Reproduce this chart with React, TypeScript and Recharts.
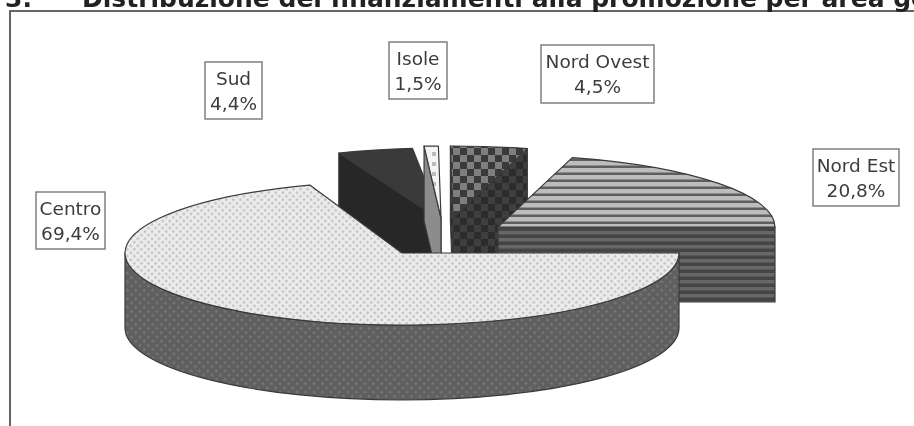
import React from "react";
import { PieChart, Pie } from "recharts";

const areas = ["Nord Est", "Nord Ovest", "Isole", "Sud", "Centro"];
const shares = [20.8, 4.5, 1.5, 4.4, 69.4];
const shareLabels = ["20,8%", "4,5%", "1,5%", "4,4%", "69,4%"];
const data = areas.map((name, i) => ({ name, value: shares[i] }));

// Styling and layout, separate from the data
const titleNumber = "3.";
const titleText = "Distribuzione dei finanziamenti alla promozione per area geografica";
const explode = [[96, -26], [51, -35], [39, -35], [39, -33], [0, 0]];
// The printed labels add up to 100,6%, and the original drew these two edges slightly off their share.
const edgeNudge = [[0, 0], [0, 0], [0, -2.4], [0, 0], [-2.2, 0]];
const drawOrder = [1, 3, 2, 0, 4];
const topFills = ["url(#neTop)", "url(#noTop)", "url(#isTop)", "#3a3a3a", "url(#ceTop)"];
const sideFills = ["url(#neSide)", "url(#noSide)", "#8c8c8c", "#272727", "url(#ceSide)"];
const labelBoxes = [
  [813, 149, 86, 57],
  [541, 45, 113, 58],
  [389, 42, 58, 57],
  [205, 62, 57, 57],
  [36, 192, 69, 57],
];
const SQUASH = 0.26;
const DEPTH = 75;
const EDGE = "#3a3a3a";

const rad = (d: number) => (d * Math.PI) / 180;

const sliceShape = (only: number) => (props: any) => {
  const idx = props.index ?? areas.indexOf(props.name ?? props.payload?.name);
  if (idx !== only) return <g />;
  const { cx, cy, outerRadius: r, startAngle, endAngle } = props;
  const lo = Math.min(startAngle, endAngle) + edgeNudge[idx][0];
  const hi = Math.max(startAngle, endAngle) + edgeNudge[idx][1];
  const [dx, dy] = explode[idx];
  const ax = cx + dx;
  const ay = cy + dy;
  const ry = r * SQUASH;
  const pt = (a: number, drop = 0) => [ax + r * Math.cos(rad(a)), ay - ry * Math.sin(rad(a)) + drop];
  const arc = (a: number, b: number, drop = 0) => {
    const p = pt(b, drop);
    return `A${r} ${ry} 0 ${Math.abs(b - a) > 180 ? 1 : 0} ${b > a ? 0 : 1} ${p[0]} ${p[1]}`;
  };
  const s = pt(lo);
  const e = pt(hi);
  const top = `M${ax} ${ay}L${s[0]} ${s[1]}${arc(lo, hi)}Z`;
  const wall = (p: number[]) =>
    `M${ax} ${ay}L${p[0]} ${p[1]}L${p[0]} ${p[1] + DEPTH}L${ax} ${ay + DEPTH}Z`;
  const f0 = Math.max(lo, 180);
  const f1 = Math.min(hi, 360);
  let outer = "";
  if (f1 > f0) {
    const a = pt(f0);
    const bd = pt(f1, DEPTH);
    outer = `M${a[0]} ${a[1]}${arc(f0, f1)}L${bd[0]} ${bd[1]}${arc(f1, f0, DEPTH)}Z`;
  }
  const stroke = { stroke: EDGE, strokeWidth: 1.2, strokeLinejoin: "round" as const };
  const loFaces = Math.cos(rad(lo)) > 0 && hi < 180;
  const hiFaces = Math.cos(rad(hi)) < 0 && hi < 180;
  return (
    <g>
      {loFaces && <path d={wall(s)} fill={sideFills[idx]} {...stroke} />}
      {hiFaces && <path d={wall(e)} fill={sideFills[idx]} {...stroke} />}
      {outer && <path d={outer} fill={sideFills[idx]} {...stroke} />}
      <path d={top} fill={topFills[idx]} {...stroke} />
    </g>
  );
};

const renderLabel = (props: any) => {
  const idx = props.index;
  const [x, y, w, h] = labelBoxes[idx];
  const mid = x + w / 2;
  const style = { fontFamily: "DejaVu Sans", fontSize: 18.5, fill: "#3c3c3c", textAnchor: "middle" as const };
  return (
    <g key={idx}>
      <rect x={x} y={y} width={w} height={h} fill="#fff" stroke="#777" strokeWidth={1.4} />
      <text x={mid} y={y + 23} stroke="none" {...style}>{areas[idx]}</text>
      <text x={mid} y={y + 48} stroke="none" {...style}>{shareLabels[idx]}</text>
    </g>
  );
};

const titleStyle = { fontFamily: "DejaVu Sans", fontWeight: 700, fontSize: 25, fill: "#222" };

export default function App() {
  return (
    <div style={{ position: "absolute", left: 0, top: 0, width: 914, height: 426, background: "#fff", overflow: "hidden", filter: "blur(0.5px)" }}>
      <PieChart width={914} height={426} margin={{ top: 0, right: 0, bottom: 0, left: 0 }}>
        <defs>
          <pattern id="ceTop" width="5" height="5" patternUnits="userSpaceOnUse" patternTransform="rotate(45)">
            <rect width="5" height="5" fill="#ececec" />
            <rect width="2.5" height="2.5" fill="#c4c4c4" />
          </pattern>
          <pattern id="ceSide" width="6" height="6" patternUnits="userSpaceOnUse" patternTransform="rotate(45)">
            <rect width="6" height="6" fill="#5f5f5f" />
            <rect width="2.5" height="2.5" fill="#767676" />
          </pattern>
          <pattern id="neTop" width="7" height="7" patternUnits="userSpaceOnUse">
            <rect width="7" height="7" fill="#bdbdbd" />
            <rect y="4.5" width="7" height="2.5" fill="#5e5e5e" />
          </pattern>
          <pattern id="neSide" width="7" height="7" patternUnits="userSpaceOnUse">
            <rect width="7" height="7" fill="#676767" />
            <rect y="3.5" width="7" height="3.5" fill="#454545" />
          </pattern>
          <pattern id="noTop" x="453" y="148" width="14" height="14" patternUnits="userSpaceOnUse">
            <rect width="14" height="14" fill="#3a3a3a" />
            <rect width="7" height="7" fill="#7f7f7f" />
            <rect x="7" y="7" width="7" height="7" fill="#7f7f7f" />
          </pattern>
          <pattern id="noSide" x="453" y="148" width="14" height="14" patternUnits="userSpaceOnUse">
            <rect width="14" height="14" fill="#2c2c2c" />
            <rect width="7" height="7" fill="#3f3f3f" />
            <rect x="7" y="7" width="7" height="7" fill="#3f3f3f" />
          </pattern>
          <pattern id="isTop" width="10" height="10" patternUnits="userSpaceOnUse">
            <rect width="10" height="10" fill="#f4f4f4" />
            <rect x="2" y="2" width="4" height="4" fill="#bbbbbb" />
          </pattern>
        </defs>
        <rect x="10" y="11" width="930" height="440" fill="#fff" stroke="#555" strokeWidth={1.8} />
        <text x={5} y={7} style={titleStyle}>{titleNumber}</text>
        <text x={82} y={7} style={titleStyle}>{titleText}</text>
        {drawOrder.map((idx, layer) => (
          <Pie
            key={idx}
            data={data}
            dataKey="value"
            nameKey="name"
            cx={402}
            cy={253}
            outerRadius={277}
            startAngle={0}
            endAngle={360}
            stroke="none"
            isAnimationActive={false}
            shape={sliceShape(idx)}
            label={layer === drawOrder.length - 1 ? renderLabel : false}
            labelLine={false}
          />
        ))}
      </PieChart>
    </div>
  );
}
